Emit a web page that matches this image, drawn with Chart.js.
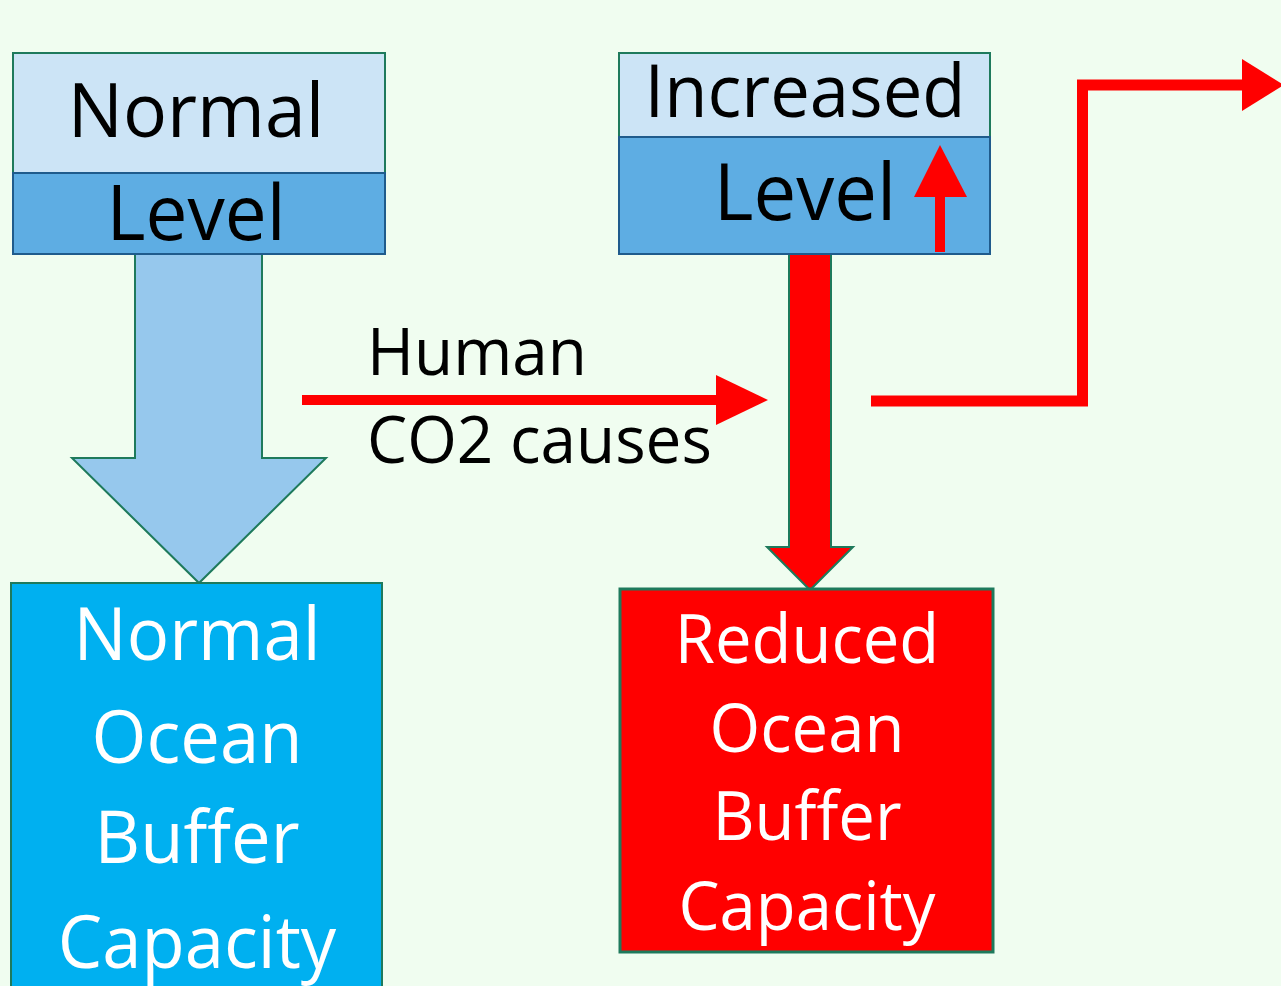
<!DOCTYPE html>
<html>
<head>
<meta charset="utf-8">
<script src="https://cdn.jsdelivr.net/npm/chart.js@4/dist/chart.umd.min.js"></script>
<style>
  html, body { margin: 0; padding: 0; background: #f0fdf0; }
  #wrap { width: 1281px; height: 986px; }
</style>
</head>
<body>
<div id="wrap"><canvas id="co2Chart" width="1281" height="986"></canvas></div>
<script>
// Diagram geometry in data units (x: 0..1281, y: 0..986 top-down)
const normalTop = [13, 53, 385, 173];
const normalLevel = [13, 173, 385, 254];
const increasedTop = [619, 53, 990, 137];
const increasedLevel = [619, 137, 990, 254];
const normalBuffer = [11, 583, 382, 1000];
const reducedBuffer = [620, 589, 993, 952];

const normalArrow = [[135, 254], [262, 254], [262, 458], [326, 458], [199, 583], [72, 458], [135, 458]];
const reducedArrow = [[789, 254], [831, 254], [831, 547], [853, 547], [810, 590], [767, 547], [789, 547]];
const humanHead = [[716, 375], [768, 400], [716, 425]];
const exitHead = [[1242, 59], [1284, 85], [1242, 111]];
const upHead = [[914, 197], [940, 145], [967, 197]];

const humanLine = [[302, 400], [718, 400]];
const exitLine = [[871, 401], [1082.5, 401], [1082.5, 85], [1246, 85]];
const upLine = [[940, 252], [940, 194]];

// Labels: text, x, baseline y, cap height
const topLabels = [
  ['Normal', 196, 137, 54],
  ['Level', 196, 240, 55],
  ['Increased', 805, 117, 52],
  ['Level', 805, 220, 56]
];
const causeLabels = [
  ['Human', 367, 375, 47],
  ['CO2 causes', 367, 463, 47]
];
const normalBufferLabels = [
  ['Normal', 197, 660, 52],
  ['Ocean', 197, 763, 52],
  ['Buffer', 197, 863, 52],
  ['Capacity', 197, 968, 52]
];
const reducedBufferLabels = [
  ['Reduced', 807, 663, 48],
  ['Ocean', 807, 752, 48],
  ['Buffer', 807, 840, 48],
  ['Capacity', 807, 930, 48]
];

const FONT = '"Open Sans", "Noto Sans", sans-serif';
const CAP = 0.714;
const SQUEEZE = 0.97;

const toPts = (arr) => arr.map(p => ({ x: p[0], y: p[1] }));

function px(chart, p) {
  return [chart.scales.x.getPixelForValue(p[0]), chart.scales.y.getPixelForValue(p[1])];
}

function drawPoly(chart, pts, fill, stroke, width) {
  const ctx = chart.ctx;
  ctx.save();
  ctx.beginPath();
  pts.forEach((p, i) => {
    const [x, y] = px(chart, p);
    if (i === 0) ctx.moveTo(x, y); else ctx.lineTo(x, y);
  });
  ctx.closePath();
  ctx.fillStyle = fill;
  ctx.fill();
  if (stroke) {
    ctx.strokeStyle = stroke;
    ctx.lineWidth = width;
    ctx.lineJoin = 'miter';
    ctx.stroke();
  }
  ctx.restore();
}

function rectPts(r) {
  return [[r[0], r[1]], [r[2], r[1]], [r[2], r[3]], [r[0], r[3]]];
}

function drawLabels(chart, labels, color, align) {
  const ctx = chart.ctx;
  labels.forEach(([text, x, y, cap]) => {
    const [px0, py0] = px(chart, [x, y]);
    const size = cap / CAP;
    ctx.save();
    ctx.font = size + 'px ' + FONT;
    ctx.fillStyle = color;
    ctx.textAlign = align;
    ctx.textBaseline = 'alphabetic';
    ctx.translate(px0, py0);
    ctx.scale(SQUEEZE, 1);
    ctx.fillText(text, 0, 0);
    ctx.restore();
  });
}

const green = '#1e7a5c';
const navy = '#1f5b8c';

const diagramPlugin = {
  id: 'diagram',
  beforeDatasetsDraw(chart) {
    drawPoly(chart, normalArrow, '#96c8ed', green, 2);
    drawPoly(chart, reducedArrow, '#ff0000', green, 2);
    drawPoly(chart, rectPts(normalTop), '#cce4f6', green, 2);
    drawPoly(chart, rectPts(normalLevel), '#5eade3', navy, 2);
    drawPoly(chart, rectPts(increasedTop), '#cce4f6', green, 2);
    drawPoly(chart, rectPts(increasedLevel), '#5eade3', navy, 2);
    drawPoly(chart, rectPts(normalBuffer), '#00b0f0', green, 2);
    drawPoly(chart, rectPts(reducedBuffer), '#ff0000', green, 3);
    drawLabels(chart, topLabels, '#000000', 'center');
    drawLabels(chart, causeLabels, '#000000', 'left');
    drawLabels(chart, normalBufferLabels, '#ffffff', 'center');
    drawLabels(chart, reducedBufferLabels, '#ffffff', 'center');
  },
  afterDatasetsDraw(chart) {
    drawPoly(chart, humanHead, '#ff0000');
    drawPoly(chart, exitHead, '#ff0000');
    drawPoly(chart, upHead, '#ff0000');
  }
};

function redLine(data, width) {
  return {
    data: toPts(data),
    showLine: true,
    borderColor: '#ff0000',
    borderWidth: width,
    borderCapStyle: 'butt',
    borderJoinStyle: 'miter',
    pointRadius: 0,
    tension: 0,
    fill: false
  };
}

document.addEventListener('DOMContentLoaded', function() {
  const ctx = document.getElementById('co2Chart');
  new Chart(ctx, {
    type: 'scatter',
    data: {
      datasets: [
        redLine(humanLine, 10),
        redLine(exitLine, 11),
        redLine(upLine, 10)
      ]
    },
    options: {
      responsive: false,
      animation: false,
      layout: { padding: 0 },
      plugins: {
        legend: { display: false },
        tooltip: { enabled: false }
      },
      scales: {
        x: { type: 'linear', min: 0, max: 1281, display: false },
        y: { type: 'linear', min: 0, max: 986, reverse: true, display: false }
      }
    },
    plugins: [diagramPlugin]
  });
});
</script>
</body>
</html>
